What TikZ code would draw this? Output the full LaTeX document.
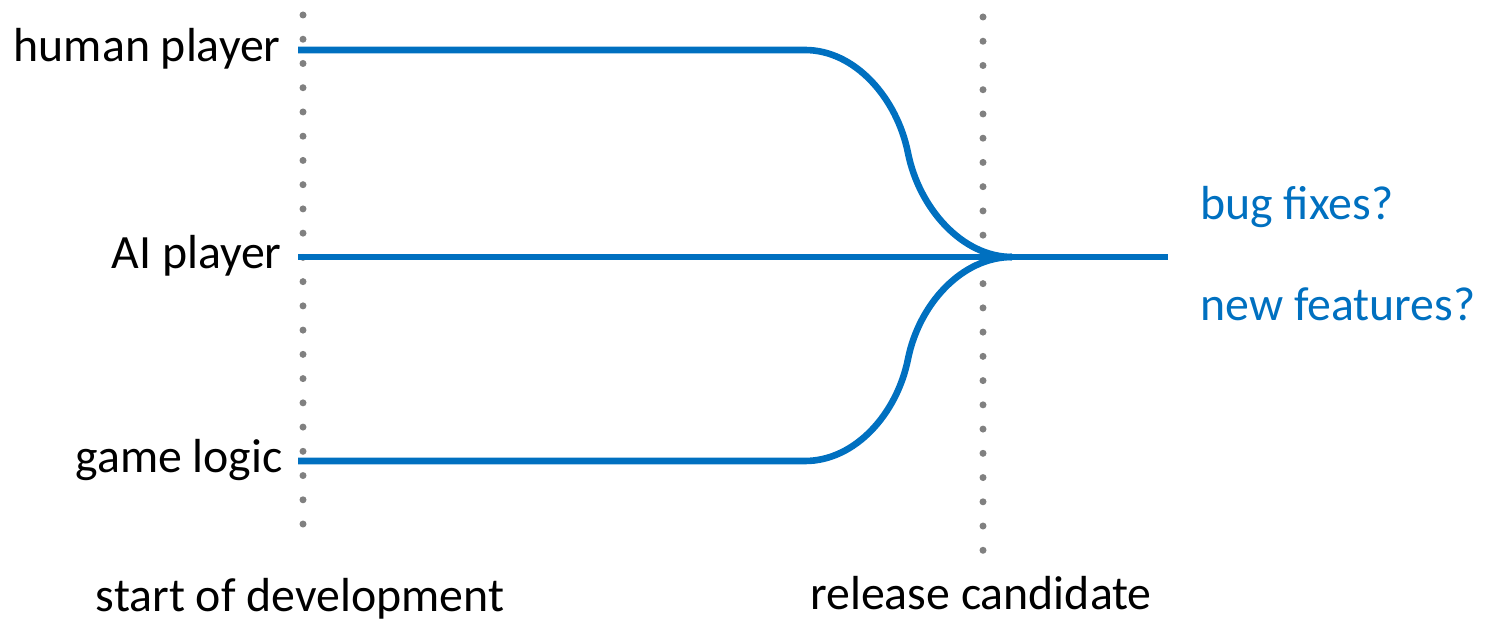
\documentclass[tikz,border=0pt]{standalone}
\usepackage{fontspec}
\setmainfont{Carlito}
\usepackage{xcolor}
\definecolor{trackblue}{HTML}{0070C0}
\definecolor{dotgray}{HTML}{808080}
\tikzset{track/.style={draw=trackblue,line width=3.3pt},
 milestone/.style={draw=dotgray,line width=3.5pt,line cap=round,
   dash pattern=on 0pt off 12.12pt},
 lbl/.style={inner sep=0pt,font=\fontsize{23.9}{28}\selectfont},
 note/.style={lbl,text=trackblue,anchor=base west},
 }

\begin{document}
\begin{tikzpicture}[x=0.5pt,y=-0.5pt]
    \useasboundingbox (0,0) rectangle (1485,620);
    % milestones
    \coordinate (startTop) at (303,15);
    \coordinate (startBot) at (303,548);
    \coordinate (rcTop) at (983,17);
    \coordinate (rcBot) at (983,551);
    \draw[milestone] (startTop) -- (startBot);
    \draw[milestone] (rcTop) -- (rcBot);
    \node[lbl,anchor=base] (startLbl) at (300,611) {start of development};
    \node[lbl,anchor=base] (rcLbl) at (981,610) {release candidate};
    % components
    \node[lbl,anchor=base east] (human) at (281,62) {human player};
    \node[lbl,anchor=base east] (ai) at (282,269) {AI player};
    \node[lbl,anchor=base east] (logic) at (283,473) {game logic};
    \coordinate (hStart) at (298,50);
    \coordinate (hBend) at (805,50);
    \coordinate (hMid) at (908,153);
    \coordinate (aStart) at (298,257);
    \coordinate (aEnd) at (1168,257);
    \coordinate (gStart) at (298,461);
    \coordinate (gBend) at (805,461);
    \coordinate (gMid) at (908,359);
    \coordinate (merge) at (1012,257);
    \draw[track] (aStart) -- (aEnd);
    \draw[track] (hStart) -- (hBend) .. controls +(50,0) and +(-11,-55) .. (hMid)
        .. controls +(11,55) and +(-50,0) .. (merge);
    \draw[track] (gStart) -- (gBend) .. controls +(50,0) and +(-11,55) .. (gMid)
        .. controls +(11,-55) and +(-50,0) .. (merge);
    % after release
    \node[note] (fixes) at (1200,220) {bug fixes?};
    \node[note] (features) at (1200,321) {new features?};
\end{tikzpicture}
\end{document}
